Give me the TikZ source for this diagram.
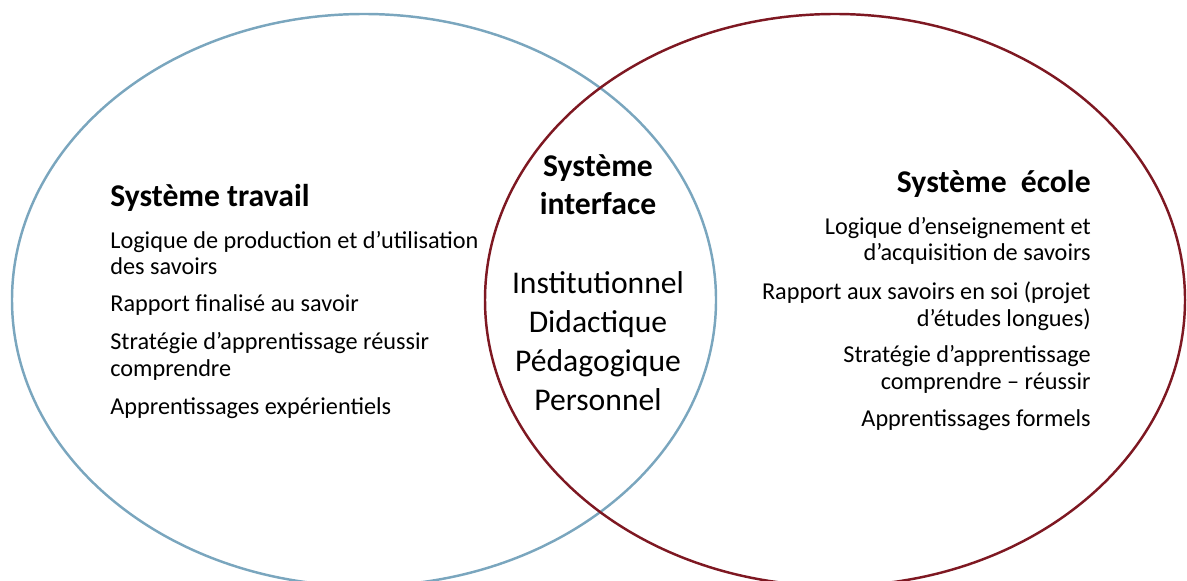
\documentclass[tikz,border=0pt]{standalone}
\usepackage{fontspec}
\setmainfont{Carlito}
\usepackage{tikz}

\definecolor{travailblue}{RGB}{122,166,190}
\definecolor{ecolered}{RGB}{126,24,34}

\tikzset{
  systitle/.style={font=\fontsize{18}{22.1}\selectfont\bfseries, inner sep=0pt},
  item/.style={font=\fontsize{13.8}{14.8}\selectfont, inner sep=0pt},
  middle/.style={font=\fontsize{18}{22.1}\selectfont, inner sep=0pt, align=center},
}

\begin{document}
\begin{tikzpicture}
\useasboundingbox (0,0) rectangle (23.74,11.6);
% the two systems
\draw[travailblue, line width=1.4pt] (7.28,5.6) ellipse (7.04 and 5.72);
\draw[ecolered, line width=1.4pt] (16.7,5.6) ellipse (7.0 and 5.72);

% left: travail (base = last line)
\node[systitle, anchor=base west] (travail) at (2.2,7.46) {Système travail};
\node[item, anchor=base west, align=left] (trav1) at (2.2,6.10) {Logique de production et d’utilisation\\des savoirs};
\node[item, anchor=base west, align=left] (trav2) at (2.2,5.38) {Rapport finalisé au savoir};
\node[item, anchor=base west, align=left] (trav3) at (2.2,4.08) {Stratégie d’apprentissage réussir\\comprendre};
\node[item, anchor=base west, align=left] (trav4) at (2.2,3.32) {Apprentissages expérientiels};

% middle: interface
\node[systitle, anchor=base, align=center] (interface) at (11.96,7.30) {Système\\interface};
\node[middle, anchor=base] (niveaux) at (11.96,3.40) {Institutionnel\\Didactique\\Pédagogique\\Personnel};

% right: ecole
\node[systitle, anchor=base east] (ecole) at (21.82,7.74) {Système\ \ école};
\node[item, anchor=base east, align=right] (ecol1) at (21.82,6.38) {Logique d’enseignement et\\d’acquisition de savoirs};
\node[item, anchor=base east, align=right] (ecol2) at (21.82,5.08) {Rapport aux savoirs en soi (projet\\d’études longues)};
\node[item, anchor=base east, align=right] (ecol3) at (21.82,3.82) {Stratégie d’apprentissage\\comprendre – réussir};
\node[item, anchor=base east, align=right] (ecol4) at (21.82,3.08) {Apprentissages formels};
\end{tikzpicture}
\end{document}
